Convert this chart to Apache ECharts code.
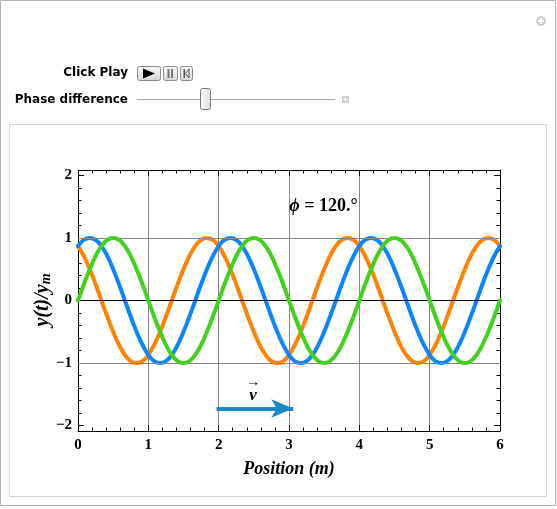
<!DOCTYPE html>
<html><head><meta charset="utf-8">
<script src="https://cdn.jsdelivr.net/npm/echarts@6/dist/echarts.min.js"></script>
<style>html,body{margin:0;padding:0;background:#fff;}#c{width:557px;height:509px;}</style>
</head><body><div id="c"></div>
<script>
// Sample positions (m)
const xPos = [
  0,0.083,0.167,0.25,0.333,0.417,0.5,0.583,0.667,0.75,0.833,0.917,
  1,1.083,1.167,1.25,1.333,1.417,1.5,1.583,1.667,1.75,1.833,1.917,
  2,2.083,2.167,2.25,2.333,2.417,2.5,2.583,2.667,2.75,2.833,2.917,
  3,3.083,3.167,3.25,3.333,3.417,3.5,3.583,3.667,3.75,3.833,3.917,
  4,4.083,4.167,4.25,4.333,4.417,4.5,4.583,4.667,4.75,4.833,4.917,
  5,5.083,5.167,5.25,5.333,5.417,5.5,5.583,5.667,5.75,5.833,5.917,
  6
];
// Green wave (phase 0)
const greenY = [
  0,0.26,0.5,0.71,0.87,0.97,1,0.97,0.87,0.71,0.5,0.26,
  0,-0.26,-0.5,-0.71,-0.87,-0.97,-1,-0.97,-0.87,-0.71,-0.5,-0.26,
  0,0.26,0.5,0.71,0.87,0.97,1,0.97,0.87,0.71,0.5,0.26,
  0,-0.26,-0.5,-0.71,-0.87,-0.97,-1,-0.97,-0.87,-0.71,-0.5,-0.26,
  0,0.26,0.5,0.71,0.87,0.97,1,0.97,0.87,0.71,0.5,0.26,
  0,-0.26,-0.5,-0.71,-0.87,-0.97,-1,-0.97,-0.87,-0.71,-0.5,-0.26,
  0
];
// Blue wave
const blueY = [
  0.87,0.97,1,0.97,0.87,0.71,0.5,0.26,0,-0.26,-0.5,-0.71,
  -0.87,-0.97,-1,-0.97,-0.87,-0.71,-0.5,-0.26,0,0.26,0.5,0.71,
  0.87,0.97,1,0.97,0.87,0.71,0.5,0.26,0,-0.26,-0.5,-0.71,
  -0.87,-0.97,-1,-0.97,-0.87,-0.71,-0.5,-0.26,0,0.26,0.5,0.71,
  0.87,0.97,1,0.97,0.87,0.71,0.5,0.26,0,-0.26,-0.5,-0.71,
  -0.87,-0.97,-1,-0.97,-0.87,-0.71,-0.5,-0.26,0,0.26,0.5,0.71,
  0.87
];
// Orange wave
const orangeY = [
  0.87,0.71,0.5,0.26,0,-0.26,-0.5,-0.71,-0.87,-0.97,-1,-0.97,
  -0.87,-0.71,-0.5,-0.26,0,0.26,0.5,0.71,0.87,0.97,1,0.97,
  0.87,0.71,0.5,0.26,0,-0.26,-0.5,-0.71,-0.87,-0.97,-1,-0.97,
  -0.87,-0.71,-0.5,-0.26,0,0.26,0.5,0.71,0.87,0.97,1,0.97,
  0.87,0.71,0.5,0.26,0,-0.26,-0.5,-0.71,-0.87,-0.97,-1,-0.97,
  -0.87,-0.71,-0.5,-0.26,0,0.26,0.5,0.71,0.87,0.97,1,0.97,
  0.87
];
const yTickValues = [-2, -1, 0, 1, 2];
const yTickLabels = ['−2', '−1', '0', '1', '2'];
const gridLinesY = [-1, 1];
const arrowX = [1.97, 3.06];
const arrowY = -1.73;
const phiText = '120.°';
const phiPos = [3.49, 1.51];
const vPos = [2.49, -1.47];

const SERIF = '"Liberation Serif","DejaVu Serif",serif';
const SANS = '"DejaVu Sans","Liberation Sans",sans-serif';
const XMIN = 0, XMAX = 6, YMIN = -2.09, YMAX = 2.09;

const chart = echarts.init(document.getElementById('c'), null, {renderer: 'canvas'});

function wave(name, ys, color, z) {
  return {
    type: 'line', name: name, xAxisIndex: 0, yAxisIndex: 0,
    data: xPos.map((x, i) => [x, ys[i]]),
    showSymbol: false, symbol: 'none', smooth: true, silent: true,
    lineStyle: {color: color, width: 4, cap: 'round'}, z: z
  };
}

const tickLabelStyle = {fontFamily: SERIF, fontWeight: 'bold', fontSize: 15, color: '#000'};

function xAx(pos, labels) {
  return {
    type: 'value', position: pos, min: XMIN, max: XMAX, interval: 1,
    axisLine: {show: true, onZero: false, lineStyle: {color: '#000', width: 1}},
    axisTick: {show: true, inside: true, length: 6, lineStyle: {color: '#000'}},
    minorTick: {show: true, splitNumber: 5, length: 3.5, lineStyle: {color: '#000'}},
    axisLabel: labels ? Object.assign({show: true, margin: 7}, tickLabelStyle) : {show: false},
    splitLine: {show: labels, lineStyle: {color: '#888', width: 1}}
  };
}
function yAx(pos, major, labels) {
  return {
    type: 'value', position: pos, offset: 0, min: YMIN, max: YMAX,
    splitNumber: major ? 4 : 21,
    axisLine: {show: major, onZero: false, lineStyle: {color: '#000', width: 1}},
    axisTick: {show: true, inside: true, length: major ? 6 : 3.5, lineStyle: {color: '#000'}},
    axisLabel: labels ? Object.assign({
      show: true, margin: 6, showMinLabel: true, showMaxLabel: true,
      formatter: function (v) {
        const k = yTickValues.indexOf(Math.round(v * 1000) / 1000);
        return k >= 0 ? yTickLabels[k] : '';
      }
    }, tickLabelStyle) : {show: false},
    splitLine: {show: false}
  };
}

const option = {
  animation: false,
  backgroundColor: '#fff',
  grid: {left: 78, right: 57, top: 170, bottom: 78, containLabel: false},
  xAxis: [xAx('bottom', true), xAx('top', false)],
  yAxis: [yAx('left', true, true), yAx('left', false, false), yAx('right', true, false), yAx('right', false, false)],
  series: [
    {
      type: 'line', name: 'guides', xAxisIndex: 0, yAxisIndex: 0, data: [], silent: true, z: 1,
      markLine: {
        silent: true, symbol: 'none', label: {show: false}, animation: false,
        data: gridLinesY.map(v => ({yAxis: v, lineStyle: {color: '#888', width: 1, type: 'solid'}}))
          .concat([{yAxis: 0, lineStyle: {color: '#000', width: 1, type: 'solid'}}])
      }
    },
    wave('orange', orangeY, '#ff8200', 3),
    wave('blue', blueY, '#0a85ff', 4),
    wave('green', greenY, '#42d11f', 5),
    {
      type: 'line', name: 'velocity', xAxisIndex: 0, yAxisIndex: 0, data: [], silent: true, z: 6,
      markLine: {
        silent: true, symbol: ['none', 'arrow'], symbolSize: [14, 22], label: {show: false}, animation: false,
        lineStyle: {color: '#1a86c6', width: 4, type: 'solid'},
        data: [[{coord: [arrowX[0], arrowY]}, {coord: [arrowX[1], arrowY]}]]
      }
    }
  ]
};
chart.setOption(option);

const pPhi = chart.convertToPixel({xAxisIndex: 0, yAxisIndex: 0}, phiPos);
const pV = chart.convertToPixel({xAxisIndex: 0, yAxisIndex: 0}, vPos);

function btn(x, w) {
  return {type: 'rect', shape: {x: x + 0.5, y: 66.5, width: w, height: 14, r: 2},
    style: {fill: new echarts.graphic.LinearGradient(0, 0, 0, 1, [{offset: 0, color: '#fbfbfb'}, {offset: 1, color: '#d6d6d6'}]), stroke: '#8a8a8a', lineWidth: 1}};
}

chart.setOption({
  graphic: [
    {type: 'rect', shape: {x: 0.5, y: 0.5, width: 555, height: 505}, style: {fill: 'none', stroke: '#b4b4b4', lineWidth: 1}, z: 0},
    {type: 'rect', shape: {x: 9.5, y: 124.5, width: 537, height: 372}, style: {fill: 'none', stroke: '#d4d4d4', lineWidth: 1}, z: 0},
    {type: 'circle', shape: {cx: 541, cy: 21, r: 5}, style: {fill: '#cdcdcd'}},
    {type: 'rect', shape: {x: 540, y: 18, width: 2, height: 6}, style: {fill: '#fff'}},
    {type: 'rect', shape: {x: 538, y: 20, width: 6, height: 2}, style: {fill: '#fff'}},
    {type: 'text', x: 128, y: 73, style: {text: 'Click Play', fill: '#000', font: 'bold 12px ' + SANS, align: 'right', verticalAlign: 'middle'}},
    btn(137, 23), btn(163, 14), btn(180, 12),
    {type: 'polygon', shape: {points: [[143, 68.5], [143, 78.5], [155, 73.5]]}, style: {fill: '#000'}},
    {type: 'rect', shape: {x: 167.5, y: 69, width: 2, height: 9}, style: {fill: '#777'}},
    {type: 'rect', shape: {x: 171, y: 69, width: 2, height: 9}, style: {fill: '#777'}},
    {type: 'rect', shape: {x: 183.5, y: 69, width: 1.5, height: 9}, style: {fill: '#555'}},
    {type: 'polygon', shape: {points: [[189, 69], [189, 78], [185.5, 73.5]]}, style: {fill: 'none', stroke: '#555', lineWidth: 1}},
    {type: 'text', x: 128, y: 100, style: {text: 'Phase difference', fill: '#000', font: 'bold 12px ' + SANS, align: 'right', verticalAlign: 'middle'}},
    {type: 'line', shape: {x1: 137, y1: 99.5, x2: 335, y2: 99.5}, style: {stroke: '#a8a8a8', lineWidth: 1}},
    {type: 'rect', shape: {x: 200.5, y: 88.5, width: 10, height: 21, r: 2},
      style: {fill: new echarts.graphic.LinearGradient(0, 0, 1, 0, [{offset: 0, color: '#ffffff'}, {offset: 1, color: '#dcdcdc'}]), stroke: '#7a7a7a', lineWidth: 1}},
    {type: 'rect', shape: {x: 342, y: 96, width: 7, height: 7}, style: {fill: '#cfcfcf'}},
    {type: 'rect', shape: {x: 345, y: 97.5, width: 1, height: 4}, style: {fill: '#fff'}},
    {type: 'rect', shape: {x: 343.5, y: 99, width: 4, height: 1}, style: {fill: '#fff'}},
    {type: 'text', x: pPhi[0], y: pPhi[1], z: 10, style: {
      text: '{i|ϕ} = ' + phiText, align: 'center', verticalAlign: 'middle', fill: '#000',
      font: 'bold 18px ' + SERIF,
      rich: {i: {fontStyle: 'italic', fontWeight: 'bold', fontSize: 18, fontFamily: SERIF}}
    }},
    {type: 'text', x: pV[0], y: pV[1] - 10, z: 10, style: {text: '→', align: 'center', verticalAlign: 'middle', fill: '#000', font: 'bold 14px ' + SERIF}},
    {type: 'text', x: pV[0], y: pV[1] + 3, z: 10, style: {text: 'v', align: 'center', verticalAlign: 'middle', fill: '#000', font: 'italic bold 17px ' + SERIF}},
    {type: 'text', x: 289, y: 469, style: {text: 'Position (m)', align: 'center', verticalAlign: 'middle', fill: '#000', font: 'italic bold 18px ' + SERIF}},
    {type: 'text', x: 43, y: 300, rotation: Math.PI / 2, style: {
      text: 'y(t)/y{s|m}', align: 'center', verticalAlign: 'middle', fill: '#000',
      font: 'italic bold 20px ' + SERIF,
      rich: {s: {fontStyle: 'italic', fontWeight: 'bold', fontSize: 14, fontFamily: SERIF, verticalAlign: 'bottom', padding: [7, 0, 0, 0]}}
    }}
  ]
});
</script>
</body></html>
